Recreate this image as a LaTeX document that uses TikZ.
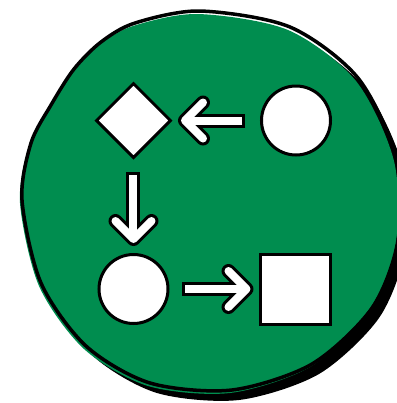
\documentclass[tikz,border=0pt]{standalone}
\usetikzlibrary{shapes.geometric}
\definecolor{leafgreen}{HTML}{008D4F}
\newcommand\blobshape{plot[smooth cycle] coordinates {(200,11) (290,27) (358,78) (396,158) (398,240) (372,308) (312,364) (232,390) (150,383) (86,346) (41,283) (22,200) (31,143) (51,105) (74,69) (101,42) (135,23)}}
\tikzset{
  shapebox/.style={draw=black, fill=white, line width=1.5pt, inner sep=0pt},
  arrowback/.style={draw=black, line width=7pt},
  arrowfront/.style={draw=white, line width=4pt},
  barb/.style={line cap=round, line join=round},
}

\begin{document}
\begin{tikzpicture}[x=0.5pt, y=-0.5pt]
\useasboundingbox (0,0) rectangle (397,403);
\clip (0,0) rectangle (397,403);

% blob with shadow
\fill[black, shift={(7,10)}] \blobshape;
\fill[leafgreen, shift={(-2,3)}] \blobshape;
\draw[black, line width=1.75pt] \blobshape;

\node[shapebox, diamond, minimum width=37.5pt, minimum height=37.5pt] (d) at (133.5,120.5) {};
\node[shapebox, circle, minimum size=34.5pt] (c1) at (296,120.5) {};
\node[shapebox, circle, minimum size=34.5pt] (c2) at (133.5,289) {};
\node[shapebox, rectangle, minimum size=35pt] (sq) at (295.5,289) {};

% c1 -> d
\coordinate (t1) at ([xshift=-7.25pt]c1.west);
\coordinate (h1) at ([xshift=6.25pt]d.east);
\draw[arrowback] (t1) -- (h1);
\draw[arrowback, barb] ([shift={(18,-18)}]h1) -- (h1) -- ([shift={(18,18)}]h1);
\draw[arrowfront, shorten <=1.5pt] (t1) -- (h1);
\draw[arrowfront, barb] ([shift={(18,-18)}]h1) -- (h1) -- ([shift={(18,18)}]h1);

% d -> c2
\coordinate (t2) at ([yshift=-6.25pt]d.south);
\coordinate (h2) at ([yshift=7pt]c2.north);
\draw[arrowback] (t2) -- (h2);
\draw[arrowback, barb] ([shift={(-18,-18)}]h2) -- (h2) -- ([shift={(18,-18)}]h2);
\draw[arrowfront, shorten <=1.5pt] (t2) -- (h2);
\draw[arrowfront, barb] ([shift={(-18,-18)}]h2) -- (h2) -- ([shift={(18,-18)}]h2);

% c2 -> sq
\coordinate (t3) at ([xshift=6.5pt]c2.east);
\coordinate (h3) at ([xshift=-6.25pt]sq.west);
\draw[arrowback] (t3) -- (h3);
\draw[arrowback, barb] ([shift={(-18,-18)}]h3) -- (h3) -- ([shift={(-18,18)}]h3);
\draw[arrowfront, shorten <=1.5pt] (t3) -- (h3);
\draw[arrowfront, barb] ([shift={(-18,-18)}]h3) -- (h3) -- ([shift={(-18,18)}]h3);
\end{tikzpicture}
\end{document}
